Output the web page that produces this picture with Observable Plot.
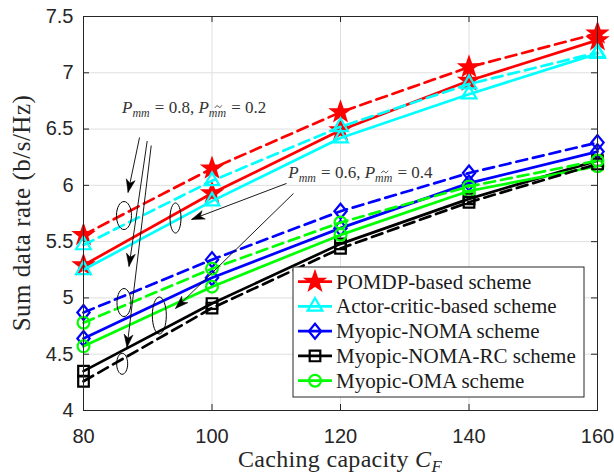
<!DOCTYPE html>
<html>
<head>
<meta charset="utf-8">
<script src="https://cdn.jsdelivr.net/npm/d3@7"></script>
<script src="https://cdn.jsdelivr.net/npm/@observablehq/plot@0.6"></script>
<style>
  body { margin: 0; background: #fff; }
  #chart { position: relative; width: 614px; height: 475px; }
</style>
</head>
<body>
<div id="chart"></div>
<script>
// ---------------- data ----------------
const capacities = [80, 100, 120, 140, 160];
const xTicks = [80, 100, 120, 140, 160];
const yTicks = [4, 4.5, 5, 5.5, 6, 6.5, 7, 7.5];

const seriesNames = ["POMDP-based scheme", "Actor-critic-based scheme", "Myopic-NOMA scheme", "Myopic-NOMA-RC scheme", "Myopic-OMA scheme"];

const pomdpSolid   = [5.29, 5.93, 6.49, 6.93, 7.29];
const pomdpDashed  = [5.56, 6.15, 6.65, 7.05, 7.35];
const actorSolid   = [5.25, 5.86, 6.42, 6.81, 7.17];
const actorDashed  = [5.47, 6.04, 6.52, 6.90, 7.18];
const nomaSolid    = [4.64, 5.18, 5.62, 6.02, 6.30];
const nomaDashed   = [4.87, 5.34, 5.77, 6.11, 6.38];
const nomaRCSolid  = [4.35, 4.95, 5.48, 5.88, 6.22];
const nomaRCDashed = [4.26, 4.91, 5.44, 5.85, 6.19];
const omaSolid     = [4.57, 5.10, 5.56, 5.95, 6.17];
const omaDashed    = [4.78, 5.26, 5.67, 5.99, 6.22];

// annotation anchors in data coordinates
const annotationTexts = [
  {x: 86.07, y: 6.638, a: "0.8", b: "0.2"},
  {x: 111.95, y: 6.058, a: "0.6", b: "0.4"}
];
const arrowLines = [
  {x1: 88.72, y1: 6.425, x2: 86.93, y2: 5.937},
  {x1: 89.91, y1: 6.394, x2: 87.08, y2: 5.279},
  {x1: 90.54, y1: 6.354, x2: 86.77, y2: 4.560},
  {x1: 111.6, y1: 6.017, x2: 96.81, y2: 5.697},
  {x1: 112.68, y1: 5.928, x2: 94.32, y2: 4.906}
];
const ellipseCenters = [
  {x: 86.30, y: 5.732}, {x: 86.30, y: 4.959}, {x: 86.02, y: 4.415},
  {x: 94.32, y: 5.710}, {x: 91.80, y: 4.844}
];

// ---------------- styles ----------------
const W = 614, H = 475, mL = 83, mR = 17, mT = 16, mB = 65;
const plotW = W - mL - mR, plotH = H - mT - mB;
const serif = "'Liberation Serif', 'Times New Roman', serif";
const sans = "'Liberation Sans', Arial, Helvetica, sans-serif";
const axisColor = "#262626";
const ellipseSizes = [[15, 28], [14, 28], [11, 21], [11, 30], [14, 37]];

function polySymbol(pts) {
  return {draw(ctx, size) {
    const r = Math.sqrt(size / Math.PI);
    pts.forEach(([a, b], i) => i ? ctx.lineTo(a * r, b * r) : ctx.moveTo(a * r, b * r));
    ctx.closePath();
  }};
}
const starPts = d3.range(10).map(i => {
  const ang = (-90 + i * 36) * Math.PI / 180, rr = i % 2 ? 0.40 : 1;
  return [rr * Math.cos(ang), rr * Math.sin(ang)];
});
const symbols = {
  star: polySymbol(starPts),
  triangle: polySymbol([[0, -1], [0.866, 0.5], [-0.866, 0.5]]),
  diamond: polySymbol([[0, -1], [0.82, 0], [0, 1], [-0.82, 0]]),
  square: polySymbol([[-1, -1], [1, -1], [1, 1], [-1, 1]]),
  circle: {draw(ctx, size) { const r = Math.sqrt(size / Math.PI); ctx.moveTo(r, 0); ctx.arc(0, 0, r, 0, 2 * Math.PI); }}
};
const markerR = {star: 9.5, triangle: 8.5, diamond: 7.5, square: 5.3, circle: 5.9};

function ellipseSymbol(w, h) {
  return {draw(ctx) {
    const rx = w / 2, ry = h / 2, k = 0.5523;
    ctx.moveTo(rx, 0);
    ctx.bezierCurveTo(rx, ry * k, rx * k, ry, 0, ry);
    ctx.bezierCurveTo(-rx * k, ry, -rx, ry * k, -rx, 0);
    ctx.bezierCurveTo(-rx, -ry * k, -rx * k, -ry, 0, -ry);
    ctx.bezierCurveTo(rx * k, -ry, rx, -ry * k, rx, 0);
    ctx.closePath();
  }};
}
const arrowHead = {draw(ctx) {
  const len = 13, w = 4.5;
  ctx.moveTo(0, 0); ctx.lineTo(w, len); ctx.lineTo(0, len * 0.72); ctx.lineTo(-w, len); ctx.closePath();
}};

const series = [
  {name: seriesNames[0], color: "#ff0000", marker: "star", solid: pomdpSolid, dashed: pomdpDashed},
  {name: seriesNames[1], color: "#00ffff", marker: "triangle", solid: actorSolid, dashed: actorDashed},
  {name: seriesNames[2], color: "#0000ff", marker: "diamond", solid: nomaSolid, dashed: nomaDashed},
  {name: seriesNames[3], color: "#000000", marker: "square", solid: nomaRCSolid, dashed: nomaRCDashed},
  {name: seriesNames[4], color: "#00ff00", marker: "circle", solid: omaSolid, dashed: omaDashed}
];

const sx = Plot.scale({x: {domain: [80, 160], range: [mL, W - mR]}});
const sy = Plot.scale({y: {domain: [4, 7.5], range: [H - mB, mT]}});
const arrowData = arrowLines.map(d => {
  const dx = sx.apply(d.x2) - sx.apply(d.x1), dy = sy.apply(d.y2) - sy.apply(d.y1);
  return {...d, angle: Math.atan2(dx, -dy) * 180 / Math.PI};
});

// ---------------- marks ----------------
const marks = [
  Plot.gridX(xTicks, {stroke: "#dfdfdf", strokeOpacity: 1, strokeWidth: 1}),
  Plot.gridY(yTicks, {stroke: "#dfdfdf", strokeOpacity: 1, strokeWidth: 1}),
  Plot.ruleX(xTicks, {x: d => d, insetTop: plotH - 6, stroke: axisColor}),
  Plot.ruleX(xTicks, {x: d => d, insetBottom: plotH - 6, stroke: axisColor}),
  Plot.ruleY(yTicks, {y: d => d, insetRight: plotW - 6, stroke: axisColor}),
  Plot.ruleY(yTicks, {y: d => d, insetLeft: plotW - 6, stroke: axisColor}),
  Plot.axisX(xTicks, {tickSize: 0, tickPadding: 18, label: null, fill: axisColor}),
  Plot.axisY(yTicks, {tickSize: 0, tickPadding: 10, label: null, fill: axisColor, tickFormat: d => String(d)})
];

["solid", "dashed"].forEach(kind => {
  series.forEach(s => {
    const data = capacities.map((c, i) => ({x: c, y: s[kind][i]}));
    marks.push(Plot.line(data, {x: "x", y: "y", stroke: s.color, strokeWidth: 2.7,
      strokeDasharray: kind === "dashed" ? "11,6" : null}));
    marks.push(Plot.dot(data, {x: "x", y: "y", symbol: symbols[s.marker], r: markerR[s.marker],
      stroke: s.color, fill: s.marker === "star" ? s.color : "none", strokeWidth: 2.2}));
  });
});

// annotations: ellipses and arrows
ellipseCenters.forEach((e, i) => {
  marks.push(Plot.dot([e], {x: "x", y: "y", r: 5, symbol: ellipseSymbol(...ellipseSizes[i]),
    stroke: "#000", fill: "none", strokeWidth: 1}));
});
marks.push(Plot.link(arrowData, {x1: "x1", y1: "y1", x2: "x2", y2: "y2", stroke: "#000", strokeWidth: 0.9}));
marks.push(Plot.dot(arrowData, {x: "x2", y: "y2", r: 5, rotate: "angle", symbol: arrowHead,
  fill: "#000", stroke: "#000", strokeWidth: 0.5}));
marks.push(Plot.frame({stroke: axisColor, strokeWidth: 1}));

const plot = Plot.plot({
  width: W, height: H,
  marginLeft: mL, marginRight: mR, marginTop: mT, marginBottom: mB,
  x: {domain: [80, 160], axis: null},
  y: {domain: [4, 7.5], axis: null},
  style: {fontFamily: sans, fontSize: "20px", color: axisColor, background: "#fff", overflow: "visible"},
  marks
});
document.getElementById("chart").append(plot);

// ---------------- rich text (after attach, for measuring) ----------------
const svg = d3.select(plot);
function richText(x, y, segs, fs, color, anchor, rotate, spacing) {
  const g = svg.append("g").attr("font-family", serif).attr("fill", color).attr("text-anchor", "start");
  const inner = g.append("g");
  let cx = 0;
  segs.forEach(s => {
    const size = s.sub ? fs * 0.7 : fs;
    const t = inner.append("text").attr("x", cx).attr("y", s.sub ? fs * 0.22 : 0)
      .attr("text-anchor", "start")
      .attr("font-size", size).attr("font-style", s.it ? "italic" : "normal")
      .attr("letter-spacing", spacing || 0)
      .style("white-space", "pre").attr("xml:space", "preserve").text(s.t);
    const w = t.node().getComputedTextLength();
    if (s.tilde) {
      // tilde accent drawn as a small curve above the subscript
      const tx = cx + w / 2 + 1, ty = -fs * 0.38, hw = fs * 0.2, hh = fs * 0.07;
      inner.append("path")
        .attr("d", `M${tx - hw},${ty + hh} C${tx - hw * 0.5},${ty - hh * 1.6} ${tx},${ty - hh * 0.4} ${tx},${ty} S${tx + hw * 0.5},${ty + hh * 1.6} ${tx + hw},${ty - hh}`)
        .attr("fill", "none").attr("stroke", color).attr("stroke-width", 0.9);
    }
    cx += w + (s.after || 0);
  });
  const shift = anchor === "middle" ? -cx / 2 : 0;
  inner.attr("transform", `translate(${shift},0)`);
  g.attr("transform", `translate(${x},${y})` + (rotate ? ` rotate(${rotate})` : ""));
  return g;
}

annotationTexts.forEach(a => {
  richText(sx.apply(a.x), sy.apply(a.y), [
    {t: "P", it: true}, {t: "mm", it: true, sub: true, after: 1},
    {t: " = " + a.a + ", "}, {t: "P", it: true}, {t: "mm", it: true, sub: true, tilde: true, after: 1},
    {t: " = " + a.b}
  ], 17, "#333", "start");
});

// axis labels
richText((mL + W - mR) / 2, 467, [
  {t: "Caching capacity "}, {t: "C", it: true}, {t: "F", it: true, sub: true}
], 24, axisColor, "middle", 0, 0.3);
richText(30, (mT + H - mB) / 2, [{t: "Sum data rate (b/s/Hz)"}], 25, axisColor, "middle", -90, 0.5);

// ---------------- legend ----------------
const lg = svg.append("g").attr("text-anchor", "start");
const lx = 293, ly = 267, lw = 291, lh = 130, step = 24.75;
lg.append("rect").attr("x", lx).attr("y", ly).attr("width", lw).attr("height", lh)
  .attr("fill", "#fff").attr("stroke", axisColor).attr("stroke-width", 1);
series.forEach((s, i) => {
  const cy = ly + 14.7 + i * step;
  lg.append("line").attr("x1", lx + 5).attr("x2", lx + 39).attr("y1", cy).attr("y2", cy)
    .attr("stroke", s.color).attr("stroke-width", 2.7);
  const p = d3.path();
  symbols[s.marker].draw(p, Math.PI * markerR[s.marker] ** 2);
  lg.append("path").attr("d", p.toString()).attr("transform", `translate(${lx + 22},${cy})`)
    .attr("stroke", s.color).attr("stroke-width", 2.2)
    .attr("fill", s.marker === "star" ? s.color : "none");
  lg.append("text").attr("x", lx + 43).attr("y", cy + 7).attr("font-family", serif)
    .attr("font-size", 21).attr("text-anchor", "start").attr("fill", "#1a1a1a").text(s.name);
});
</script>
</body>
</html>
